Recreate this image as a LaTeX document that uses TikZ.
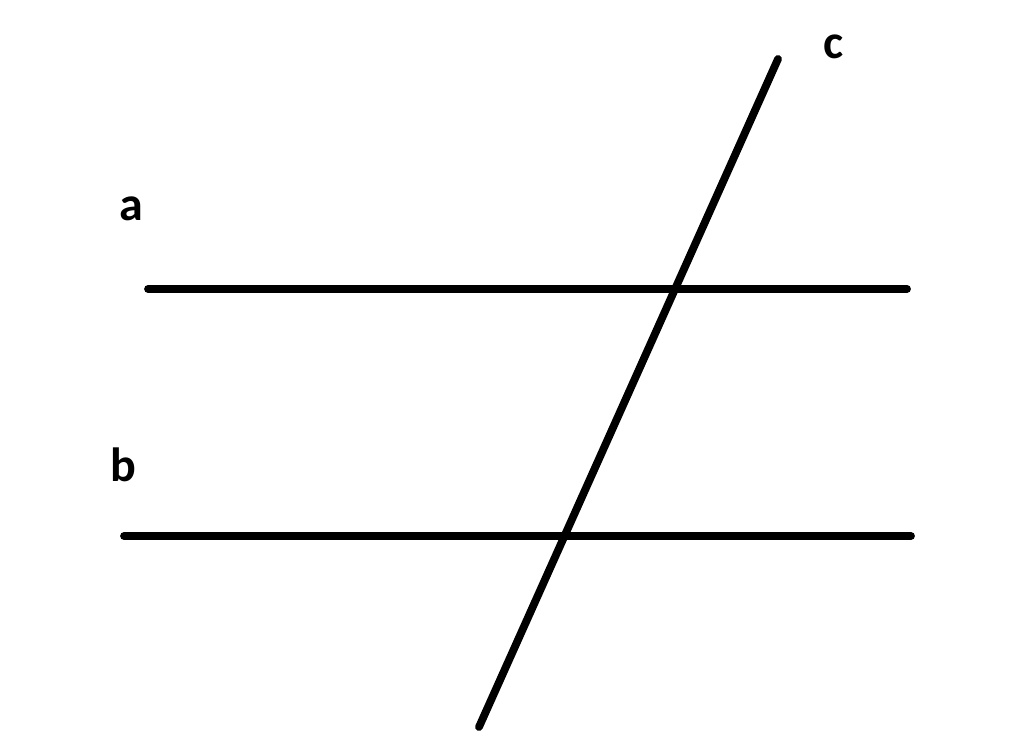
\documentclass[tikz,border=0pt]{standalone}
\usepackage{fontspec}
\setmainfont{Carlito}
\begin{document}
\begin{tikzpicture}[x=1pt,y=-1pt,
  ln/.style={line width=7.8pt,line cap=round},
  lbl/.style={font=\fontsize{48}{52}\selectfont\bfseries,inner sep=0pt}]
\useasboundingbox (0,0) rectangle (1024,746);
\coordinate (a1) at (148,289);
\coordinate (a2) at (907,289);
\coordinate (b1) at (124,536);
\coordinate (b2) at (911,536);
\coordinate (c1) at (778,59);
\coordinate (c2) at (479,727);
\draw[ln] (a1) -- (a2);
\draw[ln] (b1) -- (b2);
\draw[ln] (c1) -- (c2);
\node[lbl,anchor=base] (la) at (131,220) {a};
\node[lbl,anchor=base] (lb) at (123,481) {b};
\node[lbl,anchor=base] (lc) at (834,59) {c};
\end{tikzpicture}
\end{document}
